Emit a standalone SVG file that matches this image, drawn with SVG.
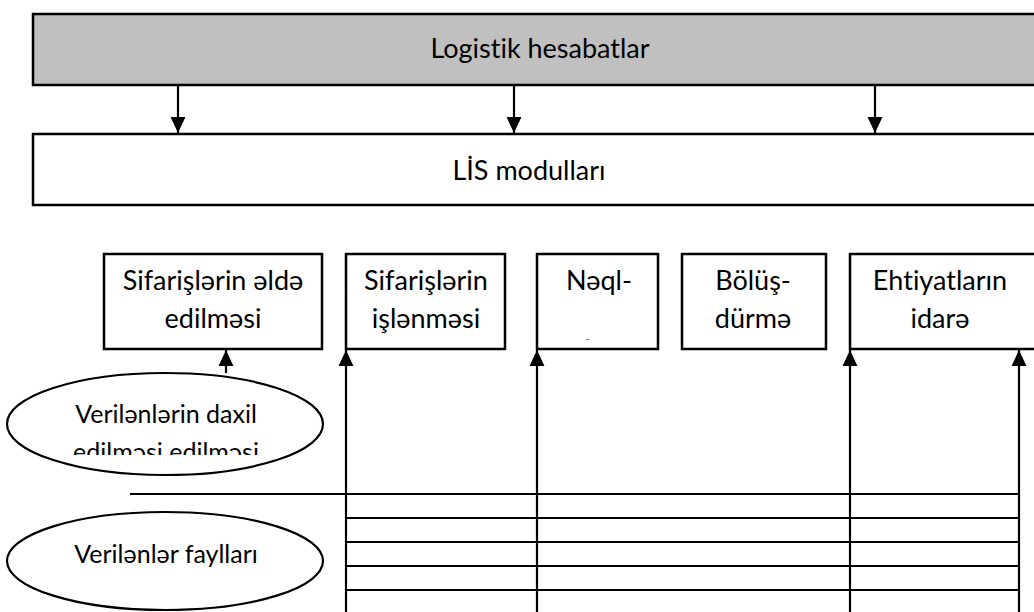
<svg xmlns="http://www.w3.org/2000/svg" width="1034" height="612" viewBox="0 0 1034 612">
  <style>
    .box { fill: #ffffff; stroke: #000000; stroke-width: 2.5; }
    .head { fill: #c0c0c0; stroke: #000000; stroke-width: 2.5; }
    .oval { fill: #ffffff; stroke: #000000; stroke-width: 2.2; }
    .lbl { font-family: Lato, "Liberation Sans", sans-serif; font-size: 27px; fill: #000000; text-anchor: middle; font-variant-ligatures: none; }
    .small { font-size: 25px; }
    .wire { fill: none; stroke: #000000; stroke-width: 2.2; }
  </style>
  <defs>
    <!-- filled triangular arrowhead, tip placed on the line end -->
    <marker id="tip" markerUnits="userSpaceOnUse" markerWidth="16" markerHeight="16" refX="15" refY="7" orient="auto" viewBox="0 0 15 14">
      <path d="M0,0 L15,7 L0,14 Z" fill="#000000"/>
    </marker>
    <clipPath id="ovalClip">
      <rect x="0" y="380" width="340" height="75"/>
    </clipPath>
  </defs>
  <rect width="1034" height="612" fill="#ffffff"/>

  <!-- top report bar -->
  <g id="reports">
    <rect class="head" x="33" y="14" width="1010" height="71"/>
    <text class="lbl" x="540" y="58">Logistik hesabatlar</text>
  </g>

  <!-- modules bar -->
  <g id="modules">
    <rect class="box" x="33" y="134" width="1010" height="71"/>
    <text class="lbl" x="529" y="180">LİS modulları</text>
  </g>

  <g id="orders-obtain">
    <rect class="box" x="104" y="254" width="218" height="95"/>
    <text class="lbl" x="213" y="290">Sifarişlərin əldə</text>
    <text class="lbl" x="213" y="328">edilməsi</text>
  </g>

  <g id="orders-process">
    <rect class="box" x="346" y="254" width="159" height="95"/>
    <text class="lbl" x="426" y="290">Sifarişlərin</text>
    <text class="lbl" x="426" y="328">işlənməsi</text>
  </g>

  <g id="transport">
    <rect class="box" x="537" y="254" width="121" height="95"/>
    <text class="lbl" x="599" y="290">Nəql-</text>
    <rect x="586" y="339" width="3" height="1" fill="#808080"/>
  </g>

  <g id="distribution">
    <rect class="box" x="682" y="254" width="144" height="95"/>
    <text class="lbl" x="753" y="290">Bölüş-</text>
    <text class="lbl" x="753" y="328">dürmə</text>
  </g>

  <g id="stock">
    <rect class="box" x="850" y="254" width="200" height="95"/>
    <text class="lbl" x="940" y="290">Ehtiyatların</text>
    <text class="lbl" x="940" y="328">idarə</text>
  </g>

  <g id="data-entry">
    <ellipse class="oval" cx="165" cy="424" rx="158" ry="51"/>
    <text class="lbl small" x="166" y="423">Verilənlərin daxil</text>
    <text class="lbl small" x="166" y="461" clip-path="url(#ovalClip)">edilməsi edilməsi</text>
  </g>

  <g id="data-files">
    <ellipse class="oval" cx="165" cy="561" rx="158" ry="49"/>
    <text class="lbl small" x="166" y="563">Verilənlər faylları</text>
  </g>

  <!-- connectors -->
  <g id="connectors">
    <line class="wire" x1="178" y1="86" x2="178" y2="133" marker-end="url(#tip)"/>
    <line class="wire" x1="514" y1="86" x2="514" y2="133" marker-end="url(#tip)"/>
    <line class="wire" x1="875" y1="86" x2="875" y2="133" marker-end="url(#tip)"/>

    <line class="wire" x1="226" y1="373" x2="226" y2="350" marker-end="url(#tip)"/>
    <line class="wire" x1="346" y1="612" x2="346" y2="350" marker-end="url(#tip)"/>
    <line class="wire" x1="537" y1="612" x2="537" y2="350" marker-end="url(#tip)"/>
    <line class="wire" x1="850" y1="612" x2="850" y2="350" marker-end="url(#tip)"/>
    <line class="wire" x1="1019" y1="612" x2="1019" y2="350" marker-end="url(#tip)"/>

    <line class="wire" x1="130" y1="494" x2="1019" y2="494"/>
    <line class="wire" x1="346" y1="518" x2="1019" y2="518"/>
    <line class="wire" x1="346" y1="542" x2="1019" y2="542"/>
    <line class="wire" x1="346" y1="566" x2="1019" y2="566"/>
    <line class="wire" x1="346" y1="590" x2="1019" y2="590"/>
  </g>
</svg>
